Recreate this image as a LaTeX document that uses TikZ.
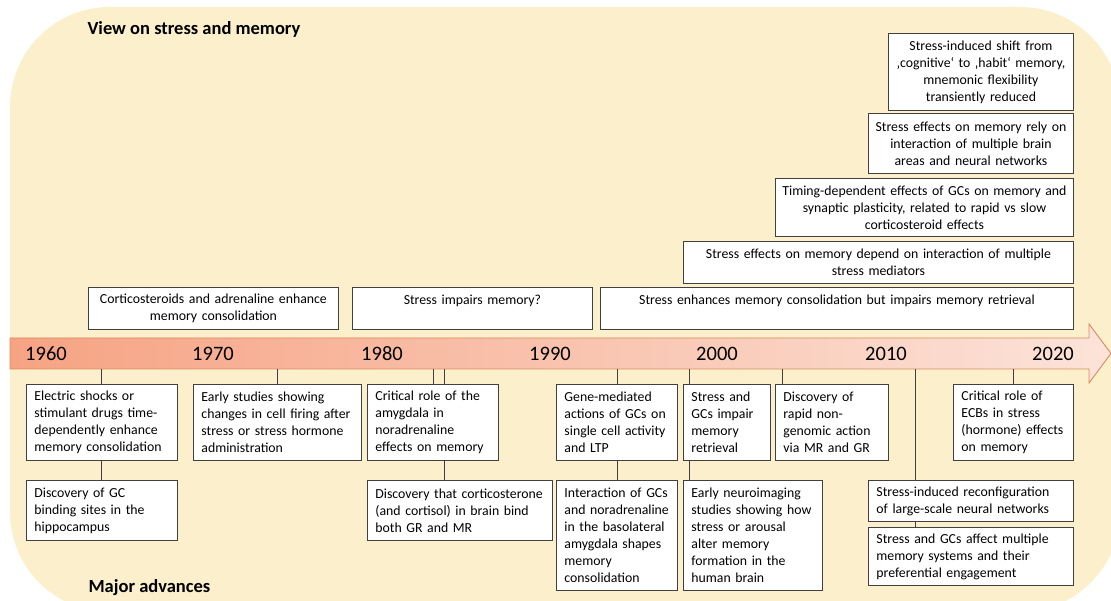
\documentclass[tikz,border=0pt]{standalone}
\usepackage{fontspec}
\setmainfont{Carlito}
\usepackage{xcolor}
\usepackage{tikz}

\definecolor{bgyellow}{HTML}{FBF0CB}
\definecolor{arrowleft}{HTML}{F6A383}
\definecolor{arrowright}{HTML}{FCE3D9}
\definecolor{arrowline}{HTML}{D98A5F}
\definecolor{boxline}{HTML}{404040}

\tikzset{
    evbox/.style={draw=boxline, fill=white, line width=0.9pt, anchor=north west,
        inner xsep=8pt, inner ysep=0pt, align=left, font=\fontsize{13.8}{17}\selectfont},
    viewbox/.style={evbox, inner xsep=3pt, align=center},
    tick/.style={draw=boxline, line width=0.9pt},
    year/.style={font=\fontsize{20.5}{24}\selectfont},
    heading/.style={anchor=west, font=\bfseries\fontsize{18.5}{22}\selectfont},
}

\begin{document}
\begin{tikzpicture}[x=1pt, y=-1pt]
    \useasboundingbox (0,0) rectangle (1111,601);
    \clip (0,0) rectangle (1111,601);

    % background panel
    \fill[bgyellow, rounded corners=100pt] (10,7) rectangle (1120,612);

    % time arrow
    \shadedraw[left color=arrowleft, right color=arrowright, draw=arrowline, line width=0.9pt]
        (10,338) -- (1089,338) -- (1089,324) -- (1111,353.5) -- (1089,383) -- (1089,369) -- (10,369) -- cycle;

    \node[year] (y1960) at (46,354) {1960};
    \node[year] (y1970) at (213,354) {1970};
    \node[year] (y1980) at (382,354) {1980};
    \node[year] (y1990) at (550,354) {1990};
    \node[year] (y2000) at (717,354) {2000};
    \node[year] (y2010) at (886,354) {2010};
    \node[year] (y2020) at (1053,354) {2020};

    \node[heading] (viewlbl) at (84,29) {View on stress and memory};
    \node[heading] (advlbl) at (85,588) {Major advances};

    % views (above the arrow)
    \node[viewbox, text width=244pt, minimum height=42pt] (v1) at (88,287)
        {Corticosteroids and adrenaline enhance\\memory consolidation};
    \node[viewbox, text width=234pt, minimum height=42pt] (v2) at (352,287)
        {Stress impairs memory?\\\mbox{}};
    \node[viewbox, text width=467pt, minimum height=42pt] (v3) at (600,287)
        {Stress enhances memory consolidation but impairs memory retrieval\\\mbox{}};
    \node[viewbox, text width=384pt, minimum height=42pt] (v4) at (683,241)
        {Stress effects on memory depend on interaction of multiple\\stress mediators};
    \node[viewbox, text width=292pt, minimum height=58pt] (v5) at (775,178)
        {Timing-dependent effects of GCs on memory and\\synaptic plasticity, related to rapid vs slow\\corticosteroid effects};
    \node[viewbox, text width=199pt, minimum height=60pt] (v6) at (868,113)
        {Stress effects on memory rely on\\interaction of multiple brain\\areas and neural networks};
    \node[viewbox, text width=179pt, minimum height=77pt] (v7) at (888,33)
        {Stress-induced shift from\\‚cognitive‘ to ‚habit‘ memory,\\mnemonic flexibility\\transiently reduced};

    % advances (below the arrow)
    \node[evbox, text width=135pt, minimum height=76pt] (a1) at (26,384)
        {Electric shocks or\\stimulant drugs time-\\dependently enhance\\memory consolidation};
    \node[evbox, text width=135pt, minimum height=60pt] (a1b) at (26,480)
        {Discovery of GC\\binding sites in the\\hippocampus};
    \node[evbox, text width=152pt, minimum height=76pt] (a2) at (193,384)
        {Early studies showing\\changes in cell firing after\\stress or stress hormone\\administration};
    \node[evbox, text width=115pt, minimum height=76pt] (a3) at (367,384)
        {Critical role of the\\amygdala in\\noradrenaline\\effects on memory};
    \node[evbox, text width=169pt, minimum height=60pt] (a3b) at (367,480)
        {Discovery that corticosterone\\(and cortisol) in brain bind\\both GR and MR};
    \node[evbox, text width=105pt, minimum height=76pt] (a4) at (556,384)
        {Gene-mediated\\actions of GCs on\\single cell activity\\and LTP};
    \node[evbox, text width=105pt, minimum height=110pt] (a4b) at (556,480)
        {Interaction of GCs\\and noradrenaline\\in the basolateral\\amygdala shapes\\memory\\consolidation};
    \node[evbox, text width=71pt, minimum height=76pt] (a5) at (683,384)
        {Stress and\\GCs impair\\memory\\retrieval};
    \node[evbox, text width=123pt, minimum height=110pt] (a5b) at (683,480)
        {Early neuroimaging\\studies showing how\\stress or arousal\\alter memory\\formation in the\\human brain};
    \node[evbox, text width=97pt, minimum height=76pt] (a6) at (775,384)
        {Discovery of\\rapid non-\\genomic action\\via MR and GR};
    \node[evbox, text width=104pt, minimum height=76pt] (a8) at (953,384)
        {Critical role of\\ECBs in stress\\(hormone) effects\\on memory};
    \node[evbox, text width=189pt, minimum height=41pt] (a7) at (868,480)
        {Stress-induced reconfiguration\\of large-scale neural networks};
    \node[evbox, text width=189pt, minimum height=58pt] (a7b) at (868,527)
        {Stress and GCs affect multiple\\memory systems and their\\preferential engagement};

    % ticks on the arrow
    \coordinate (k1) at (101,369);
    \coordinate (k2) at (277,369);
    \coordinate (k3) at (433,369);
    \coordinate (k3b) at (444,369);
    \coordinate (k4) at (617,369);
    \coordinate (k5) at (689,369);
    \coordinate (k6) at (782,369);
    \coordinate (k7) at (915,369);
    \coordinate (k8) at (1013,369);

    \draw[tick] (k1) -- (a1.north -| k1);
    \draw[tick] (a1.south -| k1) -- (a1b.north -| k1);
    \draw[tick] (k2) -- (a2.north -| k2);
    \draw[tick] (k3) -- (a3.north -| k3);
    \draw[tick] (k3b) -- (a3.north -| k3b);
    \draw[tick] (a3.south -| k3b) -- (a3b.north -| k3b);
    \draw[tick] (k4) -- (a4.north -| k4);
    \draw[tick] (a4.south -| k4) -- (a4b.north -| k4);
    \draw[tick] (k5) -- (a5.north -| k5);
    \draw[tick] (a5.south -| k5) -- (a5b.north -| k5);
    \draw[tick] (k6) -- (a6.north -| k6);
    \draw[tick] (k7) -- (a7.north -| k7);
    \draw[tick] (a7.south -| k7) -- (a7b.north -| k7);
    \draw[tick] (k8) -- (a8.north -| k8);
\end{tikzpicture}
\end{document}
